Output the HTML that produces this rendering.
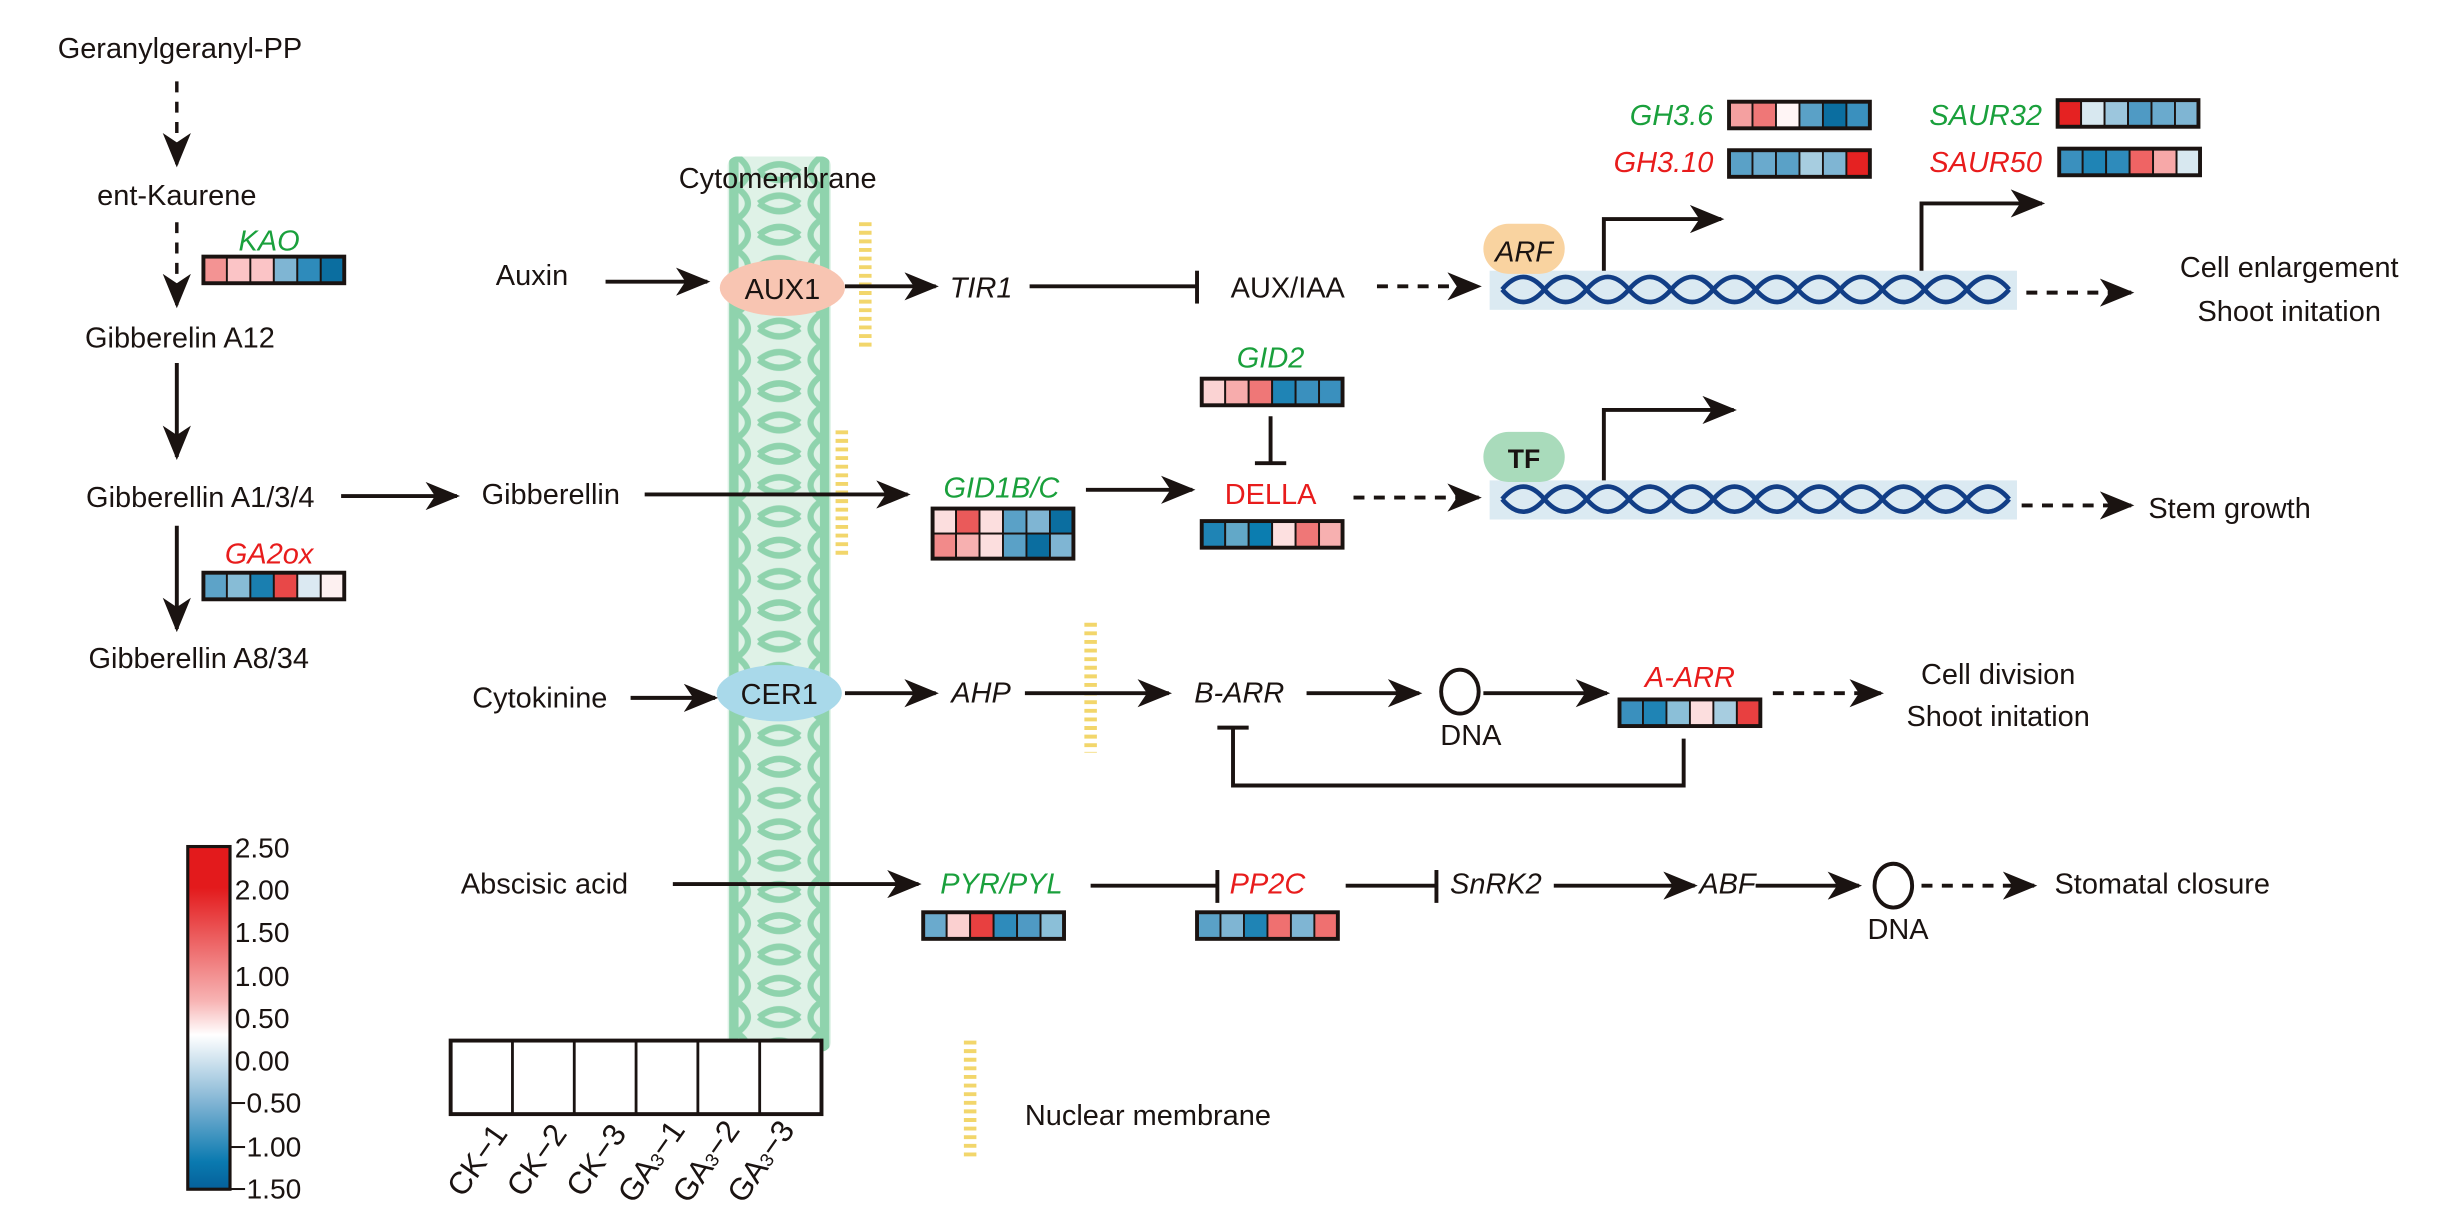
<!DOCTYPE html>
<html><head><meta charset="utf-8"><style>html,body{margin:0;padding:0;background:#fff}svg{display:block}text{font-family:"Liberation Sans",Arial,sans-serif}</style></head>
<body>
<svg width="2441" height="1226" viewBox="0 0 1560 783.5" preserveAspectRatio="none" xmlns="http://www.w3.org/2000/svg">
<defs>
<marker id="a" viewBox="0 0 22 18" refX="20" refY="9" markerWidth="22" markerHeight="18" markerUnits="userSpaceOnUse" orient="auto"><path d="M0,0 L22,9 L0,18 L6,9 z" fill="#1a1311"/></marker>
<pattern id="mem" x="465" y="0" width="66" height="20" patternUnits="userSpaceOnUse">
<rect width="66" height="20" fill="#dff2e7"/>
<path d="M6,0 Q20,10 6,20 M60,0 Q46,10 60,20 M20,10 Q33,0 46,10 M20,10 Q33,20 46,10" stroke="#8fd3ad" stroke-width="4" fill="none"/>
<path d="M4,0 L4,20 M62,0 L62,20" stroke="#8fd3ad" stroke-width="6"/>
</pattern>
<linearGradient id="cb" x1="0" y1="0" x2="0" y2="1">
<stop offset="0" stop-color="#e31a1c"/><stop offset="0.12" stop-color="#e31a1c"/><stop offset="0.45" stop-color="#f7b3b3"/><stop offset="0.55" stop-color="#ffffff"/><stop offset="0.75" stop-color="#7fb3d3"/><stop offset="0.92" stop-color="#0a7ab0"/><stop offset="1" stop-color="#05609a"/>
</linearGradient>
</defs>
<g fill="#1a1311" font-size="18.5">
<text x="115" y="37" text-anchor="middle">Geranylgeranyl-PP</text>
<line x1="113" y1="52" x2="113" y2="105" stroke="#1a1311" stroke-width="2.2" stroke-dasharray="7,6" marker-end="url(#a)"/>
<text x="113" y="131" text-anchor="middle">ent-Kaurene</text>
<line x1="113" y1="142" x2="113" y2="195" stroke="#1a1311" stroke-width="2.2" stroke-dasharray="7,6" marker-end="url(#a)"/>
<text x="172" y="160" text-anchor="middle" fill="#1aa03c" font-style="italic">KAO</text>
<text x="115" y="222" text-anchor="middle">Gibberelin A12</text>
<line x1="113" y1="232" x2="113" y2="292" stroke="#1a1311" stroke-width="2.5" marker-end="url(#a)"/>
<text x="128" y="324" text-anchor="middle">Gibberellin A1/3/4</text>
<line x1="218" y1="317" x2="292" y2="317" stroke="#1a1311" stroke-width="2.5" marker-end="url(#a)"/>
<text x="352" y="322" text-anchor="middle">Gibberellin</text>
<line x1="113" y1="336" x2="113" y2="402" stroke="#1a1311" stroke-width="2.5" marker-end="url(#a)"/>
<text x="172" y="360" text-anchor="middle" fill="#e81c1c" font-style="italic">GA2ox</text>
<text x="127" y="427" text-anchor="middle">Gibberellin A8/34</text>

<rect x="465" y="100" width="66" height="572" fill="url(#mem)" rx="6"/>
<text x="497" y="120" text-anchor="middle">Cytomembrane</text>

<text x="340" y="182" text-anchor="middle">Auxin</text>
<line x1="387" y1="180" x2="452" y2="180" stroke="#1a1311" stroke-width="2.5" marker-end="url(#a)"/>
<ellipse cx="500" cy="184" rx="40" ry="18" fill="#f8c5b2"/>
<text x="500" y="191" text-anchor="middle">AUX1</text>
<line x1="553" y1="142" x2="553" y2="222" stroke="#f2d66b" stroke-width="8" stroke-dasharray="2.5,3"/>
<line x1="540" y1="183" x2="598" y2="183" stroke="#1a1311" stroke-width="2.5" marker-end="url(#a)"/>
<text x="627" y="190" text-anchor="middle" font-style="italic">TIR1</text>
<line x1="658" y1="183" x2="765" y2="183" stroke="#1a1311" stroke-width="2.5"/>
<line x1="765" y1="173" x2="765" y2="194" stroke="#1a1311" stroke-width="2.5"/>
<text x="823" y="190" text-anchor="middle">AUX/IAA</text>
<line x1="880" y1="183" x2="945" y2="183" stroke="#1a1311" stroke-width="2.5" stroke-dasharray="7,6" marker-end="url(#a)"/>
<rect x="952" y="173" width="337" height="25" fill="#dbeaf2"/>
<path d="M960,185 q13.5,-16 27,0 t27,0 t27,0 t27,0 t27,0 t27,0 t27,0 t27,0 t27,0 t27,0 t27,0 t27,0" stroke="#123e86" stroke-width="3" fill="none"/>
<path d="M960,185 q13.5,16 27,0 t27,0 t27,0 t27,0 t27,0 t27,0 t27,0 t27,0 t27,0 t27,0 t27,0 t27,0" stroke="#123e86" stroke-width="3" fill="none"/>
<rect x="948" y="143" width="52" height="32" rx="16" fill="#f9d3a0"/>
<text x="974" y="167" text-anchor="middle" font-style="italic">ARF</text>
<path d="M1025,173 V140 H1100" stroke="#1a1311" stroke-width="2.5" fill="none" marker-end="url(#a)"/>
<path d="M1228,173 V130 H1305" stroke="#1a1311" stroke-width="2.5" fill="none" marker-end="url(#a)"/>
<text x="1095" y="80" text-anchor="end" fill="#1aa03c" font-style="italic">GH3.6</text>
<text x="1095" y="110" text-anchor="end" fill="#e81c1c" font-style="italic">GH3.10</text>
<text x="1305" y="80" text-anchor="end" fill="#1aa03c" font-style="italic">SAUR32</text>
<text x="1305" y="110" text-anchor="end" fill="#e81c1c" font-style="italic">SAUR50</text>
<line x1="1295" y1="187" x2="1362" y2="187" stroke="#1a1311" stroke-width="2.5" stroke-dasharray="7,6" marker-end="url(#a)"/>
<text x="1463" y="177" text-anchor="middle">Cell enlargement</text>
<text x="1463" y="205" text-anchor="middle">Shoot initation</text>

<text x="812" y="235" text-anchor="middle" fill="#1aa03c" font-style="italic">GID2</text>
<line x1="812" y1="266" x2="812" y2="296" stroke="#1a1311" stroke-width="2.5"/>
<line x1="802" y1="296" x2="822" y2="296" stroke="#1a1311" stroke-width="2.5"/>
<line x1="538" y1="275" x2="538" y2="356" stroke="#f2d66b" stroke-width="8" stroke-dasharray="2.5,3"/>
<line x1="412" y1="316" x2="580" y2="316" stroke="#1a1311" stroke-width="2.5" marker-end="url(#a)"/>
<text x="640" y="318" text-anchor="middle" fill="#1aa03c" font-style="italic">GID1B/C</text>
<line x1="694" y1="313" x2="762" y2="313" stroke="#1a1311" stroke-width="2.5" marker-end="url(#a)"/>
<text x="812" y="322" text-anchor="middle" fill="#e81c1c">DELLA</text>
<line x1="865" y1="318" x2="945" y2="318" stroke="#1a1311" stroke-width="2.5" stroke-dasharray="7,6" marker-end="url(#a)"/>
<rect x="952" y="307" width="337" height="25" fill="#dbeaf2"/>
<path d="M960,319 q13.5,-16 27,0 t27,0 t27,0 t27,0 t27,0 t27,0 t27,0 t27,0 t27,0 t27,0 t27,0 t27,0" stroke="#123e86" stroke-width="3" fill="none"/>
<path d="M960,319 q13.5,16 27,0 t27,0 t27,0 t27,0 t27,0 t27,0 t27,0 t27,0 t27,0 t27,0 t27,0 t27,0" stroke="#123e86" stroke-width="3" fill="none"/>
<rect x="948" y="276" width="52" height="32" rx="16" fill="#a9dbbb"/>
<text x="974" y="299" text-anchor="middle" font-weight="bold" font-size="17">TF</text>
<path d="M1025,307 V262 H1108" stroke="#1a1311" stroke-width="2.5" fill="none" marker-end="url(#a)"/>
<line x1="1292" y1="323" x2="1362" y2="323" stroke="#1a1311" stroke-width="2.5" stroke-dasharray="7,6" marker-end="url(#a)"/>
<text x="1373" y="331">Stem growth</text>

<text x="345" y="452" text-anchor="middle">Cytokinine</text>
<line x1="403" y1="446" x2="457" y2="446" stroke="#1a1311" stroke-width="2.5" marker-end="url(#a)"/>
<ellipse cx="498" cy="443" rx="40" ry="18" fill="#a9d9ea"/>
<text x="498" y="450" text-anchor="middle">CER1</text>
<line x1="540" y1="443" x2="598" y2="443" stroke="#1a1311" stroke-width="2.5" marker-end="url(#a)"/>
<text x="627" y="449" text-anchor="middle" font-style="italic">AHP</text>
<line x1="697" y1="398" x2="697" y2="481" stroke="#f2d66b" stroke-width="8" stroke-dasharray="2.5,3"/>
<line x1="655" y1="443" x2="747" y2="443" stroke="#1a1311" stroke-width="2.5" marker-end="url(#a)"/>
<text x="792" y="449" text-anchor="middle" font-style="italic">B-ARR</text>
<line x1="835" y1="443" x2="907" y2="443" stroke="#1a1311" stroke-width="2.5" marker-end="url(#a)"/>
<ellipse cx="933" cy="442" rx="12" ry="14" fill="none" stroke="#1a1311" stroke-width="2.5"/>
<text x="940" y="476" text-anchor="middle">DNA</text>
<line x1="948" y1="443" x2="1027" y2="443" stroke="#1a1311" stroke-width="2.5" marker-end="url(#a)"/>
<text x="1080" y="439" text-anchor="middle" fill="#e81c1c" font-style="italic">A-ARR</text>
<line x1="1133" y1="443" x2="1202" y2="443" stroke="#1a1311" stroke-width="2.5" stroke-dasharray="7,6" marker-end="url(#a)"/>
<text x="1277" y="437" text-anchor="middle">Cell division</text>
<text x="1277" y="464" text-anchor="middle">Shoot initation</text>
<path d="M1076,472 V502 H788 V465" stroke="#1a1311" stroke-width="2.5" fill="none"/>
<line x1="778" y1="465" x2="798" y2="465" stroke="#1a1311" stroke-width="2.5"/>

<text x="348" y="571" text-anchor="middle">Abscisic acid</text>
<line x1="430" y1="565" x2="587" y2="565" stroke="#1a1311" stroke-width="2.5" marker-end="url(#a)"/>
<text x="640" y="571" text-anchor="middle" fill="#1aa03c" font-style="italic">PYR/PYL</text>
<line x1="697" y1="566" x2="778" y2="566" stroke="#1a1311" stroke-width="2.5"/>
<line x1="778" y1="556" x2="778" y2="577" stroke="#1a1311" stroke-width="2.5"/>
<text x="810" y="571" text-anchor="middle" fill="#e81c1c" font-style="italic">PP2C</text>
<line x1="860" y1="566" x2="918" y2="566" stroke="#1a1311" stroke-width="2.5"/>
<line x1="918" y1="556" x2="918" y2="577" stroke="#1a1311" stroke-width="2.5"/>
<text x="956" y="571" text-anchor="middle" font-style="italic">SnRK2</text>
<line x1="993" y1="566" x2="1083" y2="566" stroke="#1a1311" stroke-width="2.5" marker-end="url(#a)"/>
<text x="1104" y="571" text-anchor="middle" font-style="italic">ABF</text>
<line x1="1122" y1="566" x2="1188" y2="566" stroke="#1a1311" stroke-width="2.5" marker-end="url(#a)"/>
<ellipse cx="1210" cy="566" rx="12" ry="14" fill="none" stroke="#1a1311" stroke-width="2.5"/>
<text x="1213" y="600" text-anchor="middle">DNA</text>
<line x1="1228" y1="566" x2="1300" y2="566" stroke="#1a1311" stroke-width="2.5" stroke-dasharray="7,6" marker-end="url(#a)"/>
<text x="1313" y="571">Stomatal closure</text>

<rect x="120" y="541" width="27" height="219" fill="url(#cb)" stroke="#1a1311" stroke-width="2"/>
<g font-size="18">
<text x="150" y="548">2.50</text><text x="150" y="575">2.00</text><text x="150" y="602">1.50</text><text x="150" y="630">1.00</text><text x="150" y="657">0.50</text><text x="150" y="684">0.00</text><text x="147" y="711">−0.50</text><text x="147" y="739">−1.00</text><text x="147" y="766">−1.50</text>
</g>
<rect x="288" y="665" width="237" height="47" fill="#fff" stroke="#1a1311" stroke-width="2.5"/>
<path d="M327.5,665 V712 M367,665 V712 M406.5,665 V712 M446,665 V712 M485.5,665 V712" stroke="#1a1311" stroke-width="1.8"/>
<g font-size="20">
<text transform="translate(296,766) rotate(-55)">CK−1</text>
<text transform="translate(334,766) rotate(-55)">CK−2</text>
<text transform="translate(372,766) rotate(-55)">CK−3</text>
<text transform="translate(405,770) rotate(-55)">GA<tspan font-size="12">3</tspan>−1</text>
<text transform="translate(440,770) rotate(-55)">GA<tspan font-size="12">3</tspan>−2</text>
<text transform="translate(475,770) rotate(-55)">GA<tspan font-size="12">3</tspan>−3</text>
</g>
<line x1="620" y1="665" x2="620" y2="740" stroke="#f2d66b" stroke-width="8" stroke-dasharray="2.5,3"/>
<text x="655" y="719">Nuclear membrane</text>
</g>

<g stroke="#1a1311" stroke-width="1.2">
<g transform="translate(130,164)"><rect x="0" width="15" height="17" fill="#f39393"/><rect x="15" width="15" height="17" fill="#fbc4c6"/><rect x="30" width="15" height="17" fill="#fbc4c6"/><rect x="45" width="15" height="17" fill="#7fb5d3"/><rect x="60" width="15" height="17" fill="#2e8bbb"/><rect x="75" width="15" height="17" fill="#0b6ea0"/><rect width="90" height="17" fill="none" stroke-width="2.5"/></g>
<g transform="translate(130,366)"><rect x="0" width="15" height="17" fill="#5da3c8"/><rect x="15" width="15" height="17" fill="#87bcd6"/><rect x="30" width="15" height="17" fill="#1a7fb0"/><rect x="45" width="15" height="17" fill="#e84848"/><rect x="60" width="15" height="17" fill="#dbe9f2"/><rect x="75" width="15" height="17" fill="#fdf0f0"/><rect width="90" height="17" fill="none" stroke-width="2.5"/></g>
<g transform="translate(596,325)"><rect x="0" width="15" height="16" fill="#fcdede"/><rect x="15" width="15" height="16" fill="#ea5a5a"/><rect x="30" width="15" height="16" fill="#fcdede"/><rect x="45" width="15" height="16" fill="#5aa1c7"/><rect x="60" width="15" height="16" fill="#7fb5d3"/><rect x="75" width="15" height="16" fill="#0b6ea0"/>
<rect x="0" y="16" width="15" height="16" fill="#f28a8a"/><rect x="15" y="16" width="15" height="16" fill="#f7b0b0"/><rect x="30" y="16" width="15" height="16" fill="#fcdede"/><rect x="45" y="16" width="15" height="16" fill="#5aa1c7"/><rect x="60" y="16" width="15" height="16" fill="#0b6ea0"/><rect x="75" y="16" width="15" height="16" fill="#7fb5d3"/><rect width="90" height="32" fill="none" stroke-width="2.5"/></g>
<g transform="translate(768,242)"><rect x="0" width="15" height="17" fill="#fbd3d3"/><rect x="15" width="15" height="17" fill="#f7acac"/><rect x="30" width="15" height="17" fill="#ef7777"/><rect x="45" width="15" height="17" fill="#1f84b5"/><rect x="60" width="15" height="17" fill="#3a90be"/><rect x="75" width="15" height="17" fill="#3a90be"/><rect width="90" height="17" fill="none" stroke-width="2.5"/></g>
<g transform="translate(768,333)"><rect x="0" width="15" height="17" fill="#1f84b5"/><rect x="15" width="15" height="17" fill="#62a8c8"/><rect x="30" width="15" height="17" fill="#0b7db0"/><rect x="45" width="15" height="17" fill="#fde0e0"/><rect x="60" width="15" height="17" fill="#ef7777"/><rect x="75" width="15" height="17" fill="#f7b0b0"/><rect width="90" height="17" fill="none" stroke-width="2.5"/></g>
<g transform="translate(1105,65)"><rect x="0" width="15" height="17" fill="#f4a0a0"/><rect x="15" width="15" height="17" fill="#ef7777"/><rect x="30" width="15" height="17" fill="#fff5f5"/><rect x="45" width="15" height="17" fill="#5aa1c7"/><rect x="60" width="15" height="17" fill="#0b6ea0"/><rect x="75" width="15" height="17" fill="#3a90be"/><rect width="90" height="17" fill="none" stroke-width="2.5"/></g>
<g transform="translate(1105,96)"><rect x="0" width="15" height="17" fill="#5aa1c7"/><rect x="15" width="15" height="17" fill="#6aaacd"/><rect x="30" width="15" height="17" fill="#5aa1c7"/><rect x="45" width="15" height="17" fill="#a7cde0"/><rect x="60" width="15" height="17" fill="#7fb5d3"/><rect x="75" width="15" height="17" fill="#e52222"/><rect width="90" height="17" fill="none" stroke-width="2.5"/></g>
<g transform="translate(1315,64)"><rect x="0" width="15" height="17" fill="#e52222"/><rect x="15" width="15" height="17" fill="#d8e8f0"/><rect x="30" width="15" height="17" fill="#9cc6dd"/><rect x="45" width="15" height="17" fill="#4f9ac4"/><rect x="60" width="15" height="17" fill="#6aaacd"/><rect x="75" width="15" height="17" fill="#7fb5d3"/><rect width="90" height="17" fill="none" stroke-width="2.5"/></g>
<g transform="translate(1316,95)"><rect x="0" width="15" height="17" fill="#3a90be"/><rect x="15" width="15" height="17" fill="#1f84b5"/><rect x="30" width="15" height="17" fill="#2e8bbb"/><rect x="45" width="15" height="17" fill="#ef6464"/><rect x="60" width="15" height="17" fill="#f7a8a8"/><rect x="75" width="15" height="17" fill="#d8e8f0"/><rect width="90" height="17" fill="none" stroke-width="2.5"/></g>
<g transform="translate(1035,447)"><rect x="0" width="15" height="17" fill="#3a90be"/><rect x="15" width="15" height="17" fill="#1f84b5"/><rect x="30" width="15" height="17" fill="#8bbfd8"/><rect x="45" width="15" height="17" fill="#fcdede"/><rect x="60" width="15" height="17" fill="#a7cde0"/><rect x="75" width="15" height="17" fill="#e84040"/><rect width="90" height="17" fill="none" stroke-width="2.5"/></g>
<g transform="translate(590,583)"><rect x="0" width="15" height="17" fill="#6aaacd"/><rect x="15" width="15" height="17" fill="#fbd0d0"/><rect x="30" width="15" height="17" fill="#e84040"/><rect x="45" width="15" height="17" fill="#2e8bbb"/><rect x="60" width="15" height="17" fill="#4f9ac4"/><rect x="75" width="15" height="17" fill="#8bbfd8"/><rect width="90" height="17" fill="none" stroke-width="2.5"/></g>
<g transform="translate(765,583)"><rect x="0" width="15" height="17" fill="#5aa1c7"/><rect x="15" width="15" height="17" fill="#7fb5d3"/><rect x="30" width="15" height="17" fill="#1f84b5"/><rect x="45" width="15" height="17" fill="#ef7070"/><rect x="60" width="15" height="17" fill="#7fb5d3"/><rect x="75" width="15" height="17" fill="#ef7070"/><rect width="90" height="17" fill="none" stroke-width="2.5"/></g>
</g>
</svg>
</body></html>
